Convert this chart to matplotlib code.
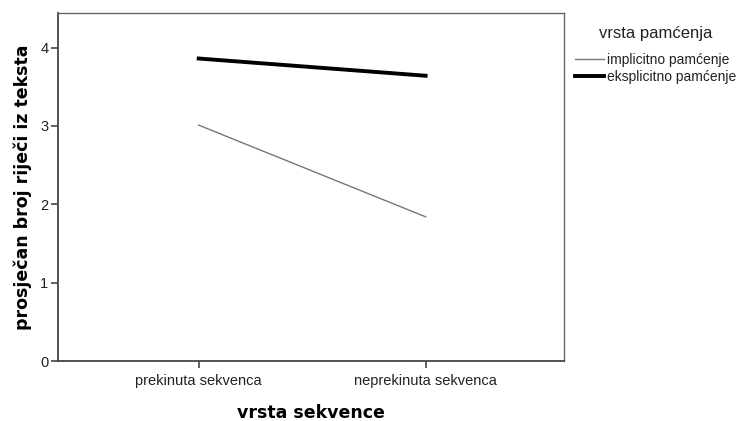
import matplotlib.pyplot as plt

plt.rcParams['font.family'] = ['Liberation Sans', 'DejaVu Sans']

categories = ['prekinuta sekvenca', 'neprekinuta sekvenca']
implicitno = [3.01, 1.84]
eksplicitno = [3.86, 3.64]
series_names = ['implicitno pamćenje', 'eksplicitno pamćenje']

fig = plt.figure(figsize=(7.36, 4.21), dpi=100)
ax = fig.add_axes([0.0788, 0.1425, 0.6875, 0.8265])

x = range(len(categories))
ax.plot(x, implicitno, color='#777777', lw=1.0, label=series_names[0])
ax.plot(x, eksplicitno, color='black', lw=2.8, label=series_names[1])

ax.set_xlim(-0.62, 1.61)
ax.set_ylim(0, 4.44)
ax.set_xticks(list(x))
ax.set_xticklabels(categories, fontsize=10.5, color='#222222')
ax.set_yticks([0, 1, 2, 3, 4])
ax.tick_params(axis='both', direction='out', length=5, width=1.2, color='#444444',
               labelsize=10.5, labelcolor='#222222', pad=2)
ax.tick_params(axis='x', pad=4)
for s in ax.spines.values():
    s.set_color('#444444')
    s.set_linewidth(1.3)
ax.spines['top'].set_color('#666666')
ax.spines['right'].set_color('#666666')
ax.spines['top'].set_linewidth(1.0)
ax.spines['right'].set_linewidth(1.0)

ax.set_ylabel('prosječan broj riječi iz teksta', fontsize=12.5, fontweight='bold',
              family='DejaVu Sans', labelpad=6)
ax.set_xlabel('vrsta sekvence', fontsize=12.5, fontweight='bold',
              family='DejaVu Sans', labelpad=12)

# legend title placed separately (SPSS leaves a bigger gap under it)
fig.text(0.891, 0.921, 'vrsta pamćenja', fontsize=12, color='#222222', ha='center', va='center')
leg = ax.legend(loc='upper left', bbox_to_anchor=(0.781, 0.874), bbox_transform=fig.transFigure,
                frameon=False, fontsize=10, handlelength=2.1, handletextpad=0.25,
                labelspacing=0.2, borderaxespad=0, borderpad=0)
for t in leg.get_texts():
    t.set_color('#222222')

fig.savefig('out.png', dpi=100)
